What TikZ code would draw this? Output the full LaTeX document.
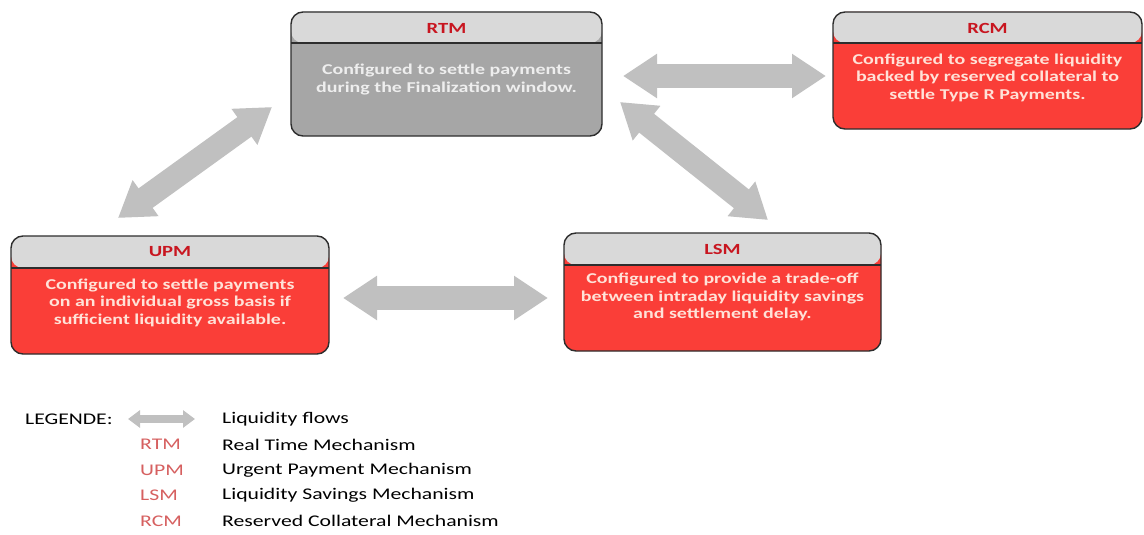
\documentclass[tikz,border=0pt]{standalone}
\usepackage{fontspec}
\setmainfont{Carlito}
\newfontfamily\boxfont[FakeStretch=1.33]{Carlito}
\usetikzlibrary{arrows.meta}
\definecolor{hdr}{RGB}{217,217,217}
\definecolor{greybody}{RGB}{166,166,166}
\definecolor{redbody}{RGB}{250,62,56}
\definecolor{titlered}{RGB}{200,22,32}
\definecolor{pinktext}{RGB}{255,226,216}
\definecolor{greytext}{RGB}{238,238,238}
\definecolor{flow}{RGB}{192,192,192}
\definecolor{legred}{RGB}{214,96,96}
\definecolor{outline}{RGB}{45,45,45}
\tikzset{
  mech/.style={draw=outline, line width=1.4pt, rounded corners=12pt, inner sep=0pt, outer sep=0pt, anchor=north west},
  hdrh/.style={path picture={
      \fill[hdr] (path picture bounding box.north west) rectangle ([yshift=-#1]path picture bounding box.north east);
      \draw[outline, line width=1.4pt] ([yshift=-#1]path picture bounding box.north west) -- ([yshift=-#1]path picture bounding box.north east);}},
  ttl/.style={font=\boxfont\bfseries\fontsize{15.5}{18}\selectfont, text=titlered},
  body/.style={font=\boxfont\bfseries\fontsize{15}{17.5}\selectfont, align=center, inner sep=0pt},
  flowarrow/.style={draw=flow, line width=24pt, {Triangle[width=42pt,length=34pt]}-{Triangle[width=42pt,length=34pt]}},
  legarrow/.style={draw=flow, line width=8pt, {Triangle[width=17pt,length=12pt]}-{Triangle[width=17pt,length=12pt]}},
  legtxt/.style={font=\boxfont\fontsize{16.3}{19}\selectfont, anchor=west, inner sep=0pt},
}
\begin{document}
\begin{tikzpicture}[x=1pt,y=-1pt]
\useasboundingbox (0,0) rectangle (1144,535);
\fill[white] (0,0) rectangle (1144,535);

% boxes
\node[mech, fill=greybody, hdrh=31pt, minimum width=311pt, minimum height=124pt] (rtm) at (291,12) {};
\node[mech, fill=redbody, hdrh=31pt, minimum width=309pt, minimum height=117pt] (rcm) at (833,12) {};
\node[mech, fill=redbody, hdrh=32pt, minimum width=318pt, minimum height=118pt] (upm) at (11,236) {};
\node[mech, fill=redbody, hdrh=32pt, minimum width=317pt, minimum height=118pt] (lsm) at (564,233) {};

% titles
\node[ttl] (rtm-t) at (446.5,28) {RTM};
\node[ttl] (rcm-t) at (987.5,28) {RCM};
\node[ttl] (upm-t) at (170,252) {UPM};
\node[ttl] (lsm-t) at (722.5,249) {LSM};

% body texts
\node[body, text=greytext] (rtm-b) at (446.5,79.5) {Configured to settle payments\\during the Finalization window.};
\node[body, text=pinktext] (rcm-b) at (987.5,77.5) {Configured to segregate liquidity\\backed by reserved collateral to\\settle Type R Payments.};
\node[body, text=pinktext] (upm-b) at (170,302.5) {Configured to settle payments\\on an individual gross basis if\\sufficient liquidity available.};
\node[body, text=pinktext] (lsm-b) at (722.5,297) {Configured to provide a trade-off\\between intraday liquidity savings\\and settlement delay.};

% arrow end points
\coordinate (a1s) at (118,218); \coordinate (a1e) at (272,107);
\coordinate (a2s) at (623,76);  \coordinate (a2e) at (826,76);
\coordinate (a3s) at (620,102); \coordinate (a3e) at (768,220);
\coordinate (a4s) at (343,298); \coordinate (a4e) at (548,298);
\draw[flowarrow] (a1s) -- (a1e);
\draw[flowarrow] (a2s) -- (a2e);
\draw[flowarrow] (a3s) -- (a3e);
\draw[flowarrow] (a4s) -- (a4e);

% legend
\node[legtxt] (leg) at (25,419) {LEGENDE:};
\coordinate (l0s) at (128,419); \coordinate (l0e) at (195,419);
\draw[legarrow] (l0s) -- (l0e);
\node[legtxt] (l0) at (222,419) {Liquidity flows};
\node[legtxt, text=legred] (k1) at (140,444.5) {RTM};
\node[legtxt] (l1) at (222,444.5) {Real Time Mechanism};
\node[legtxt, text=legred] (k2) at (140,470) {UPM};
\node[legtxt] (l2) at (222,470) {Urgent Payment Mechanism};
\node[legtxt, text=legred] (k3) at (140,495.5) {LSM};
\node[legtxt] (l3) at (222,495.5) {Liquidity Savings Mechanism};
\node[legtxt, text=legred] (k4) at (140,521) {RCM};
\node[legtxt] (l4) at (222,521) {Reserved Collateral Mechanism};
\end{tikzpicture}
\end{document}
